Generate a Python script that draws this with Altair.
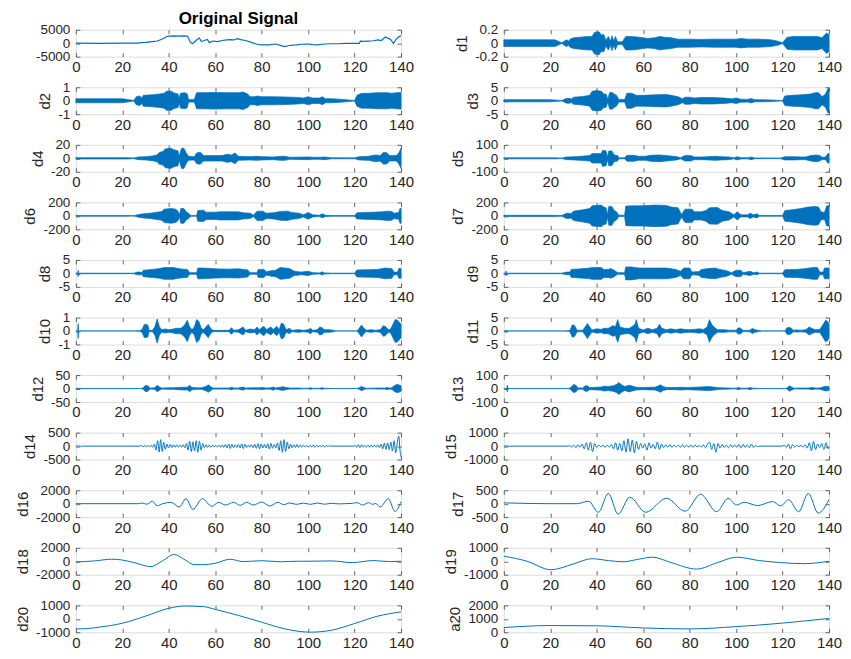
import altair as alt
import pandas as pd

BLUE = "#0072BD"
INK = "#262626"
FONT = "Liberation Sans"
X_TICKS = [0, 20, 40, 60, 80, 100, 120, 140]

# ---------------- data ----------------
ORIG = [(0, 0), (10, -50), (20, 0), (26.8, 0), (28, 200), (30, 300), (32, 500), (33.9, 700), (35, 800),
        (36.5, 1300), (38, 1800), (38.9, 2400), (40, 2600), (42, 2700), (44, 2650), (46, 2700), (48, 2600),
        (48.3, 2300), (49.2, 450), (50.2, -200), (51.5, 800), (53.1, 2000), (54, 700), (55, 900), (56.6, 1400),
        (57.5, 200), (59, 800), (61, 600), (63, 1000), (65, 1200), (66.5, 1300), (68, 1200), (69.5, 1700),
        (71, 1300), (73, 1000), (75, 500), (76.5, 0), (78, -400), (80, -600), (83, -600), (86, -300), (88, -800),
        (89.9, -1300), (91.5, -950), (93, -700), (95, -600), (97, -400), (100, -300), (102, -500), (104, -600),
        (107, -300), (110, -200), (113, -200), (116, -100), (119, -100), (122, -100), (122.5, 800), (124, 700),
        (126, 800), (128, 900), (130, 1200), (131.5, 1000), (133.2, 2300), (134.5, 1800), (135.5, 1400),
        (136.7, -100), (138, 1600), (139, 2400), (140, 2700)]

D1 = [(0, 0.05), (22, 0.05), (24, 0.02), (25, 0.005), (26, 0.03), (27, 0.05), (28, 0.03), (28.5, 0.06), (30, 0.08),
      (33, 0.09), (36, 0.1), (38, 0.1), (39, 0.16), (41, 0.17), (42, 0.12), (43, 0.13), (44, 0.04), (45, 0.1),
      (46, 0.03), (46.5, 0.11), (47.5, 0.03), (48, 0.1), (49, 0.02), (51, 0.02), (52.5, 0.1), (55, 0.1), (58, 0.09),
      (60, 0.08), (62, 0.07), (65, 0.08), (67, 0.1), (69, 0.09), (72, 0.08), (75, 0.06), (80, 0.06), (85, 0.055),
      (90, 0.06), (95, 0.06), (100, 0.06), (102, 0.07), (105, 0.06), (110, 0.06), (115, 0.05), (118, 0.03),
      (120, 0.005), (121, 0.05), (122, 0.09), (125, 0.1), (130, 0.1), (135, 0.1), (137, 0.08), (138, 0.12),
      (139, 0.15), (140, 0.13)]

D2 = [(0, 0.15), (20, 0.15), (23, 0.07), (25, 0.02), (26, 0.3), (27.5, 0.35), (28.5, 0.2), (29, 0.4), (33, 0.45),
      (36, 0.5), (38, 0.55), (39, 0.7), (41, 0.72), (42, 0.6), (44, 0.5), (44.5, 0.15), (45, 0.55), (47, 0.6),
      (48, 0.5), (48.5, 0.1), (51, 0.1), (52, 0.6), (55, 0.6), (60, 0.62), (65, 0.6), (70, 0.6), (72, 0.65),
      (74, 0.5), (75, 0.3), (77, 0.3), (78, 0.35), (80, 0.3), (85, 0.3), (90, 0.28), (95, 0.25), (98, 0.2),
      (100, 0.3), (102, 0.2), (105, 0.2), (106, 0.3), (107.5, 0.15), (110, 0.15), (115, 0.1), (119, 0.03),
      (120, 0.02), (121, 0.4), (123, 0.55), (126, 0.55), (130, 0.6), (134, 0.6), (136, 0.55), (138, 0.6),
      (140, 0.62)]

D3 = [(0, 0.4), (20, 0.4), (23, 0.2), (25, 0.1), (27, 0.9), (28.5, 0.9), (29, 0.6), (30, 1.3), (34, 1.6), (37, 2.0),
      (38, 3.5), (40, 3.8), (42, 3.5), (43, 2.5), (44, 2.5), (44.8, 0.5), (45.5, 3.0), (46.5, 3.2), (47.5, 2.5),
      (48.5, 2.0), (49.5, 0.5), (52, 0.5), (53, 2.8), (55, 2.8), (57, 2.0), (60, 2.0), (65, 2.2), (70, 2.3),
      (72, 2.0), (75, 1.5), (77, 0.7), (78, 1.3), (80, 1.3), (82, 1.0), (85, 1.2), (90, 1.2), (95, 1.0), (98, 0.7),
      (100, 1.0), (102, 0.6), (105, 0.5), (106.5, 0.8), (108, 0.4), (110, 0.4), (115, 0.3), (119, 0.1), (120, 0.1),
      (121, 1.8), (124, 2.0), (128, 2.2), (132, 2.5), (134, 3.0), (135.5, 3.0), (137, 1.5), (138.5, 2.5),
      (139.5, 4.5), (140, 4.5)]

D4 = [(0, 1.0), (22, 1.0), (25, 0.5), (27, 2.0), (30, 2.5), (33, 3.5), (35, 5), (36, 9), (37.5, 10), (38.5, 14),
      (41, 15), (42, 13), (44, 11), (44.5, 3), (45.5, 15), (46.5, 15), (47.5, 8), (48.5, 3), (51, 2.5), (52, 8),
      (53.5, 9), (55, 4), (60, 4), (63, 4), (65, 6), (67, 5), (68.5, 8), (70, 3), (75, 2.5), (78, 3), (80, 2.5),
      (85, 2), (88, 3), (90, 3), (92, 1.5), (100, 2), (102, 1.5), (105, 1.5), (107, 2), (110, 0.8), (120, 0.7),
      (122, 2.5), (126, 3), (129, 5), (131, 4), (132.5, 9), (134, 8), (135, 4), (138, 4), (139, 8), (140, 15)]

D5 = [(0, 4), (22, 4), (25, 2), (27, 10), (30, 12), (33, 15), (37, 20), (38, 35), (42, 35), (42.5, 60), (44, 55),
      (44.6, 10), (45.2, 55), (46.5, 55), (47.5, 25), (49, 20), (49.5, 4), (52, 4), (53, 22), (56, 22), (58, 15),
      (61, 15), (63, 22), (67, 25), (70, 20), (73, 15), (75, 10), (76, 4), (78, 20), (80.5, 20), (82, 10), (85, 10),
      (88, 12), (91, 15), (94, 12), (97, 10), (99, 4), (100.5, 12), (102, 5), (105, 4), (106.5, 10), (108, 3),
      (110, 3), (119, 2), (121, 12), (125, 12), (128, 10), (130, 10), (132, 20), (134.5, 25), (136, 20), (137, 8),
      (138.5, 10), (139.5, 35), (140, 35)]

D6 = [(0, 5), (22, 5), (25, 3), (27, 20), (29, 30), (32, 40), (35, 55), (37, 65), (38, 100), (41, 110), (43, 100),
      (44, 70), (44.6, 15), (45.2, 110), (46.5, 110), (47.5, 60), (48.5, 40), (49.5, 5), (52, 5), (52.5, 80),
      (55, 85), (56, 55), (60, 55), (62, 60), (67, 60), (70, 60), (72, 45), (75, 40), (76.5, 10), (78, 70),
      (80.5, 70), (82, 40), (85, 45), (88, 65), (91, 70), (93, 50), (96, 40), (98, 15), (100, 50), (102, 15),
      (105, 10), (106, 30), (107.5, 10), (110, 5), (120, 5), (121, 45), (124, 50), (128, 55), (132, 60), (134, 70),
      (136, 65), (137, 40), (139, 50), (139.5, 110), (140, 110)]

D7 = [(0, 8), (22, 8), (25, 5), (27, 40), (29, 35), (30, 70), (34, 90), (37, 110), (38, 150), (42, 160), (43, 130),
      (44, 120), (44.6, 20), (45.2, 140), (46.5, 140), (47.5, 80), (48.5, 60), (49.5, 10), (52, 10), (52.5, 145),
      (56, 150), (60, 150), (65, 160), (70, 155), (72, 130), (75, 120), (76.5, 20), (78, 100), (81, 100), (82, 60),
      (85, 60), (87, 80), (88.5, 120), (92, 125), (94, 80), (97, 60), (99, 15), (100.5, 60), (102, 15), (105, 15),
      (106, 40), (107.5, 15), (109, 30), (110, 5), (120, 5), (121, 80), (124, 90), (128, 110), (131, 130),
      (134, 140), (135.5, 130), (136.5, 60), (138, 50), (139, 150), (140, 150)]

D8 = [(0, 0.1), (0.8, 0.1), (1, 1.2), (1.2, 0.1), (25, 0.1), (26.5, 0.5), (28, 0.5), (28.5, 0.2), (29, 1.2),
      (33, 1.5), (36, 1.8), (38, 2.2), (42, 2.2), (44, 1.8), (46, 1.6), (48, 1.5), (49, 0.3), (52, 0.3), (52.5, 2.0),
      (55, 2.0), (60, 1.7), (65, 1.6), (70, 1.7), (74, 1.3), (75, 0.3), (78, 0.3), (78.5, 1.5), (81, 1.5), (82, 0.6),
      (84, 1.0), (86, 1.2), (88, 2.2), (92, 1.8), (94, 0.8), (97, 0.5), (100, 0.8), (102, 0.3), (105, 0.2),
      (106, 0.6), (107, 0.2), (110, 0.1), (120, 0.1), (121, 1.3), (126, 1.4), (130, 1.5), (133, 2.0), (136, 1.8),
      (137, 0.5), (138.5, 0.5), (139, 1.8), (140, 1.8)]

D9 = [(0, 0.1), (0.8, 0.1), (1, 0.9), (1.2, 0.1), (25, 0.1), (27, 0.5), (28.5, 0.5), (29, 1.5), (33, 1.7), (37, 2.0),
      (38, 2.2), (42, 2.2), (43, 1.5), (45, 1.5), (46, 1.8), (47.5, 1.2), (49, 0.3), (52, 0.3), (52.5, 2.4),
      (55, 2.4), (58, 2.0), (65, 2.0), (70, 2.0), (74, 1.5), (76, 0.8), (77.5, 2.0), (80, 2.0), (81, 0.5),
      (84, 0.7), (85, 1.5), (88, 1.8), (91, 2.0), (93, 1.5), (96, 1.0), (98, 0.3), (100, 1.2), (102, 1.2),
      (103, 0.3), (106, 0.8), (107.5, 0.3), (109, 0.5), (110, 0.1), (120, 0.1), (121, 1.4), (126, 1.5), (130, 1.8),
      (133, 2.2), (135, 2.2), (136, 0.5), (137.5, 0.5), (138, 2.0), (140, 2.0)]

D10 = [(0, 0), (0.8, 0), (1, 0.55), (1.2, 0), (26, 0), (26.5, 0.05), (27, 0), (28.5, 0.1), (29.5, 0.5), (31, 0.45),
       (31.5, 0.05), (33, 0.05), (34, 0.3), (35, 0.9), (36, 0.3), (37, 0.1), (38.5, 0.15), (40, 0.1), (42, 0.15),
       (43, 0.2), (45, 0.2), (46, 0.3), (47, 0.5), (48, 0.8), (49, 0.3), (50, 0.1), (51, 0.3), (52, 0.85), (53, 0.7),
       (54, 0.2), (55, 0.1), (56, 0.3), (57, 0.5), (58, 0.2), (59, 0.05), (66, 0.05), (67, 0.25), (68, 0.05),
       (70, 0.1), (72, 0.3), (73, 0.05), (75, 0.15), (77, 0.1), (78, 0.3), (79, 0.1), (80, 0.25), (81, 0.35),
       (82, 0.1), (84, 0.3), (85, 0.1), (86.5, 0.35), (87.5, 0.1), (88.5, 0.6), (89.5, 0.5), (90.5, 0.1), (92, 0.2),
       (93, 0.05), (96, 0.1), (98, 0.05), (100, 0.1), (101, 0.2), (102, 0.05), (104, 0.1), (105, 0.3), (106, 0.25),
       (107, 0.1), (109, 0.1), (111, 0.05), (112, 0), (121, 0), (122, 0.2), (123, 0.45), (124, 0.2), (125, 0.05),
       (127, 0.1), (129, 0.05), (131, 0.1), (132.5, 0.4), (133.5, 0.3), (134.5, 0.1), (135.5, 0.15), (136.5, 0.5),
       (137.5, 0.85), (138.5, 0.8), (139.5, 0.6), (140, 0.5)]

D11 = [(0, 0), (0.8, 0), (1, 0.4), (1.2, 0), (26, 0), (27, 0.1), (28, 0.1), (28.5, 0.3), (29.5, 2.3), (30.5, 2.0),
       (31.5, 0.3), (34, 0.3), (35, 1.5), (36, 2.8), (37, 1.5), (38, 0.4), (40, 0.8), (42, 0.6), (43, 1.0), (45, 1.0),
       (46, 1.5), (47, 2.0), (48, 1.5), (49, 4.2), (50, 1.5), (52, 1.0), (54, 1.0), (55, 1.5), (56.5, 2.5), (57, 4.2),
       (58, 1.0), (60, 0.4), (62, 1.0), (64, 0.5), (66, 1.0), (67, 2.5), (68, 1.0), (70, 0.5), (72, 0.8), (74, 0.5),
       (76, 0.8), (78, 0.6), (80, 0.5), (82, 0.6), (84, 0.8), (86, 0.6), (87.5, 1.5), (88.5, 4.2), (89.5, 2.5),
       (90.5, 1.5), (92, 0.5), (95, 0.5), (97, 0.3), (100, 0.3), (101, 1.2), (102, 1.0), (103, 0.2), (106, 0.3),
       (107, 1.0), (108, 0.5), (110, 0.2), (111, 0), (121, 0), (122, 1.3), (123.5, 1.2), (124.5, 0.3), (126, 0.4),
       (128, 0.3), (130, 0.5), (131.5, 1.5), (132.5, 1.0), (134, 0.5), (136, 0.6), (137.5, 2.5), (138.5, 4.0),
       (139.5, 3.5), (140, 2.5)]

D12 = [(0, 0), (0.8, 0), (1, 3), (1.2, 0), (28, 0), (29, 3), (30, 12), (31, 10), (32, 2), (34, 3), (35, 12), (36, 6),
       (37, 2), (40, 3), (42, 3), (44, 4), (46, 5), (48, 5), (49, 12), (50, 4), (52, 3), (54, 3), (56, 8), (57, 14),
       (58, 8), (59, 2), (62, 2), (66, 2), (67, 5), (68, 2), (70, 2), (72, 6), (73, 2), (76, 3), (79, 3), (80, 4),
       (82, 2), (84, 3), (85, 6), (86, 2), (88, 5), (89, 7), (90, 5), (92, 2), (96, 2), (98, 1), (100, 1), (101, 3),
       (102, 1), (105, 1), (106, 3), (107, 1), (110, 0.5), (112, 0), (121, 0), (122, 3), (123, 8), (124, 4),
       (125, 1), (128, 1.5), (130, 2), (133, 2), (134, 4), (135, 2), (136, 3), (137, 10), (138, 15), (139, 14),
       (140, 10)]

D13 = [(0, 0), (1.2, 0), (1.5, 25), (1.8, 0), (28, 0), (29, 10), (30, 30), (31, 25), (32, 5), (34, 5), (35, 20),
       (36, 20), (37, 8), (40, 10), (42, 12), (43, 18), (45, 15), (47, 20), (48.5, 30), (49.5, 45), (50.5, 30),
       (52, 15), (54, 25), (55, 20), (57, 10), (60, 8), (63, 10), (65, 10), (66.5, 20), (67.5, 28), (68.5, 15),
       (70, 8), (73, 8), (76, 10), (79, 8), (82, 10), (85, 12), (88, 15), (90, 12), (93, 6), (96, 5), (98, 3),
       (100, 3), (101, 8), (102, 3), (105, 3), (106, 8), (107, 3), (110, 1), (112, 0), (121, 0), (122, 5), (123, 20),
       (124, 10), (125, 3), (128, 4), (131, 4), (133, 8), (134, 4), (136, 5), (137, 10), (138.5, 18), (140, 15)]

D14 = [(0, 0), (1, 0), (1.5, 20), (2, -25), (2.5, 20), (3, -15), (3.5, 0), (27.5, 0),
       (28.2, 25), (28.9, -30), (29.6, 30), (30.3, -25), (31, 20), (31.7, -20), (32.4, 30), (33.1, -40),
       (33.8, 80), (34.5, -150), (35.2, 200), (35.9, -220), (36.5, 240), (37.2, -200), (37.8, 150), (38.5, -120),
       (39.2, 80), (39.9, -70), (40.6, 60), (41.3, -55), (42, 50), (42.7, -45), (43.4, 40), (44.1, -40), (44.8, 35),
       (45.5, -40), (46.2, 50), (46.9, -60), (47.6, 100), (48.3, -150), (49, 180), (49.7, -200), (50.4, 160),
       (51.1, -180), (51.8, 200), (52.5, -230), (53.2, 180), (53.9, -150), (54.6, 100), (55.3, -60), (56, 50),
       (56.7, -45), (57.4, 40), (58.1, -40), (58.8, 35), (59.5, -35), (60.2, 30), (60.9, -30), (61.6, 35),
       (62.3, -40), (63, 40), (63.7, -45), (64.4, 60), (65.1, -70), (65.8, 80), (66.5, -90), (67.2, 70), (67.9, -60),
       (68.6, 50), (69.3, -50), (70, 60), (70.7, -70), (71.4, 80), (72.1, -90), (72.8, 70), (73.5, -50), (74.2, 40),
       (74.9, -40), (75.6, 50), (76.3, -60), (77, 70), (77.7, -80), (78.4, 90), (79.1, -100), (79.8, 80),
       (80.5, -70), (81.2, 60), (81.9, -70), (82.6, 90), (83.3, -110), (84, 100), (84.7, -80), (85.4, 60),
       (86.1, -70), (86.8, 120), (87.5, -160), (88.2, 200), (88.9, -230), (89.6, 240), (90.3, -200), (91, 150),
       (91.7, -100), (92.4, 70), (93.1, -60), (93.8, 50), (94.5, -50), (95.2, 60), (95.9, -50), (96.6, 40),
       (97.3, -40), (98, 35), (98.7, -30), (99.4, 30), (100.1, -35), (100.8, 30), (101.5, -25), (102.2, 40),
       (102.9, -45), (103.6, 30), (104.3, -25), (105, 20), (105.7, -20), (106.4, 30), (107.1, -35), (107.8, 25),
       (108.5, -20), (109.2, 15), (109.9, 0), (119.5, 0), (120.2, 30), (120.9, -40), (121.6, 50), (122.3, -60),
       (123, 50), (123.7, -40), (124.4, 30), (125.1, -30), (125.8, 35), (126.5, -40), (127.2, 45), (127.9, -40),
       (128.6, 35), (129.3, -40), (130, 50), (130.7, -60), (131.4, 80), (132.1, -100), (132.8, 110), (133.5, -120),
       (134.2, 120), (134.9, -130), (135.6, 150), (136.3, -180), (137, 200), (137.7, -250), (138.4, 150),
       (139, 380), (139.6, -200), (140, -400)]

D15 = [(0, 0), (1, 0), (1.6, 40), (2.3, -30), (3, 0), (27.5, 0), (28.3, 40), (29.2, -60), (30.1, 80), (31, -120),
       (31.9, 100), (32.8, -80), (33.7, 150), (34.6, -200), (35.5, 250), (36.4, -300), (37.3, 300), (38.2, -420),
       (39.1, 200), (40, -100), (40.9, 80), (41.8, -60), (42.7, 80), (43.6, -100), (44.5, 70), (45.4, -80),
       (46.3, 120), (47.2, -200), (48.1, 250), (49, -300), (49.9, 200), (50.8, -350), (51.7, 400), (52.6, -450),
       (53.5, 550), (54.4, -400), (55.3, 450), (56.2, -500), (57.1, 350), (58, -250), (58.9, 200), (59.8, -150),
       (60.7, 180), (61.6, -300), (62.5, 250), (63.4, -150), (64.3, 120), (65.2, -200), (66.1, 300), (67, -250),
       (67.9, 150), (68.8, -120), (69.7, 100), (70.6, -80), (71.5, 120), (72.4, -100), (73.3, 80), (74.2, -60),
       (75.1, 70), (76, -90), (76.9, 100), (77.8, -80), (78.7, 60), (79.6, -70), (80.5, 90), (81.4, -100),
       (82.3, 80), (83.2, -60), (84.1, 50), (85, -70), (85.9, 90), (86.8, -120), (87.7, 150), (88.6, 300),
       (89.5, -250), (90.4, 200), (91.3, -450), (92.2, 200), (93.1, -150), (94, 120), (94.9, -100), (95.8, 80),
       (96.7, -120), (97.6, 100), (98.5, -80), (99.4, 70), (100.3, -90), (101.2, 120), (102.1, -150), (103, 130),
       (103.9, -100), (104.8, 80), (105.7, -120), (106.6, 150), (107.5, -100), (108.4, 60), (109.3, -40),
       (110.2, 0), (119.8, 0), (120.7, 80), (121.6, -100), (122.5, 150), (123.4, -200), (124.3, 120), (125.2, -80),
       (126.1, 60), (127, -50), (127.9, 60), (128.8, -80), (129.7, 100), (130.6, -150), (131.5, 250),
       (132.4, -350), (133.3, 350), (134.2, -250), (135.1, 150), (136, -100), (136.9, 200), (137.8, -250),
       (138.7, 250), (139.6, -200), (140, -100)]

D16 = [(0, 0), (27, 0), (28.5, 100), (30.5, -80), (33, 350), (35, -300), (37.4, 0), (39.5, 150), (41, 200),
       (44.5, -500), (47.4, 750), (50.4, -850), (54.5, 750), (58.5, -400), (61.5, 200), (64.4, -200), (67.9, 200),
       (70.7, -250), (73.5, 200), (76.4, -200), (80, 250), (83.5, -350), (87, 200), (89.5, -150), (92, 100),
       (95, -100), (98, 80), (101, -100), (104, 100), (107, -80), (110, 50), (113, -30), (116, 0), (119, 50),
       (121, 150), (123.5, -200), (126, 150), (127.8, -100), (129, 50), (131, -500), (134.5, 750), (137.4, -1150),
       (140, 300)]

D17 = [(0, 30), (10, 10), (18.7, 0), (31.4, 0), (36.5, 90), (40.7, -320), (45, 380), (49.2, -390), (54.2, 240),
       (61.1, -320), (70, 200), (78.1, -280), (84.7, 350), (91.6, -300), (96.6, 200), (100.1, -50), (103.5, 50),
       (109.3, -70), (115.7, 80), (119.2, -80), (122.6, 150), (126.9, -300), (131.1, 380), (135.3, -350),
       (140, 150)]

D18 = [(0, -100), (8, 50), (15.4, 300), (19.7, 200), (25, -200), (32.4, -800), (37, 0), (42.4, 1000), (47, 200),
       (51, -500), (55, -500), (60, -300), (66.4, 300), (72, -50), (80, 80), (88, -80), (95, 0), (100, 0),
       (110, 50), (119, -200), (128, 100), (135, -50), (140, 0)]

D19 = [(0, 380), (10, 0), (20.2, -630), (30, -200), (37.9, 190), (45, 50), (51.3, -40), (58, 150), (64, 300),
       (72, -100), (83, -580), (92, -100), (100.1, 300), (110, 50), (119.2, -100), (129, -180), (140, 0)]

D20 = [(0, -750), (5, -720), (10, -620), (20, -330), (30, 200), (40, 780), (47, 950), (55, 900), (60, 700),
       (70, 250), (80, -250), (90, -750), (101, -990), (110, -850), (120, -350), (130, 200), (140, 520)]

A20 = [(0, 350), (20, 500), (40, 480), (60, 320), (80, 250), (100, 420), (120, 680), (140, 1030)]

# (title, y label, kind, data, y domain, y ticks)
PANELS = [
    ("Original Signal", None, "line", ORIG, [-5000, 5000], [-5000, 0, 5000]),
    (None, "d1", "band", D1, [-0.2, 0.2], [-0.2, 0, 0.2]),
    (None, "d2", "band", D2, [-1, 1], [-1, 0, 1]),
    (None, "d3", "band", D3, [-5, 5], [-5, 0, 5]),
    (None, "d4", "band", D4, [-20, 20], [-20, 0, 20]),
    (None, "d5", "band", D5, [-100, 100], [-100, 0, 100]),
    (None, "d6", "band", D6, [-200, 200], [-200, 0, 200]),
    (None, "d7", "band", D7, [-200, 200], [-200, 0, 200]),
    (None, "d8", "band", D8, [-5, 5], [-5, 0, 5]),
    (None, "d9", "band", D9, [-5, 5], [-5, 0, 5]),
    (None, "d10", "band", D10, [-1, 1], [-1, 0, 1]),
    (None, "d11", "band", D11, [-5, 5], [-5, 0, 5]),
    (None, "d12", "band", D12, [-50, 50], [-50, 0, 50]),
    (None, "d13", "band", D13, [-100, 100], [-100, 0, 100]),
    (None, "d14", "wave", D14, [-500, 500], [-500, 0, 500]),
    (None, "d15", "wave", D15, [-1000, 1000], [-1000, 0, 1000]),
    (None, "d16", "wave", D16, [-2000, 2000], [-2000, 0, 2000]),
    (None, "d17", "wave", D17, [-500, 500], [-500, 0, 500]),
    (None, "d18", "wave", D18, [-2000, 2000], [-2000, 0, 2000]),
    (None, "d19", "wave", D19, [-1000, 1000], [-1000, 0, 1000]),
    (None, "d20", "wave", D20, [-1000, 1000], [-1000, 0, 1000]),
    (None, "a20", "wave", A20, [0, 2000], [0, 1000, 2000]),
]

W, H = 326, 27
TICK = 4


def axis(orient, values, show_labels, ylabel=None):
    kw = dict(orient=orient, values=values, grid=False, domain=False, tickSize=TICK, offset=-TICK,
              tickColor=INK, tickWidth=0.7, labels=show_labels, title=None)
    if show_labels:
        kw.update(labelFont=FONT, labelFontSize=15 if orient == "bottom" else 13.5, labelColor=INK,
                  labelFlush=False, labelOverlap=False, labelExpr="toString(datum.value)",
                  labelPadding=3 if orient == "bottom" else 6)
    if ylabel:
        kw.update(title=ylabel, titleFont=FONT, titleFontSize=15, titleFontWeight="normal",
                  titleColor=INK, titlePadding=5)
    return alt.Axis(**kw)


def make_panel(title, ylabel, kind, pts, dom, ticks):
    xs = alt.Scale(domain=[0, 140], nice=False, zero=False)
    ys = alt.Scale(domain=dom, nice=False, zero=False)
    if kind == "band":
        df = pd.DataFrame(pts, columns=["x", "amp"])
        base = alt.Chart(df).transform_calculate(lo="-datum.amp")
        main = base.mark_area(color=BLUE, stroke=BLUE, strokeWidth=0.7, opacity=1).encode(
            x=alt.X("x:Q", scale=xs, axis=axis("bottom", X_TICKS, True)),
            y=alt.Y("amp:Q", scale=ys, axis=axis("left", ticks, True, ylabel)),
            y2="lo:Q",
        )
        ycol = "amp:Q"
    else:
        df = pd.DataFrame(pts, columns=["x", "y"])
        base = alt.Chart(df)
        interp = "linear" if kind == "line" else "monotone"
        main = base.mark_line(color=BLUE, strokeWidth=1.2 if kind == "line" else 1, interpolate=interp).encode(
            x=alt.X("x:Q", scale=xs, axis=axis("bottom", X_TICKS, True)),
            y=alt.Y("y:Q", scale=ys, axis=axis("left", ticks, True, ylabel)),
        )
        ycol = "y:Q"
    mirror = base.mark_line(opacity=0).encode(
        x=alt.X("x:Q", scale=xs, axis=axis("top", X_TICKS, False)),
        y=alt.Y(ycol, scale=ys, axis=axis("right", ticks, False)),
    )
    lay = alt.layer(main, mirror).resolve_axis(x="independent", y="independent").properties(width=W, height=H)
    if title:
        lay = lay.properties(title=alt.TitleParams(title, font=FONT, fontSize=17, fontWeight="bold",
                                                   color="black", offset=-5, anchor="middle", frame="group"))
    return lay


panels = [make_panel(*p) for p in PANELS]

chart = alt.concat(*panels, columns=2, spacing=alt.RowColnumber(row=30.7, column=103), bounds="flush").properties(
    padding={"left": 6, "top": 0, "right": 0, "bottom": 0}
).configure_view(stroke=INK, strokeWidth=0.7).configure(background="white")

chart.save("out.html", embed_options={"renderer": "svg", "actions": False})
